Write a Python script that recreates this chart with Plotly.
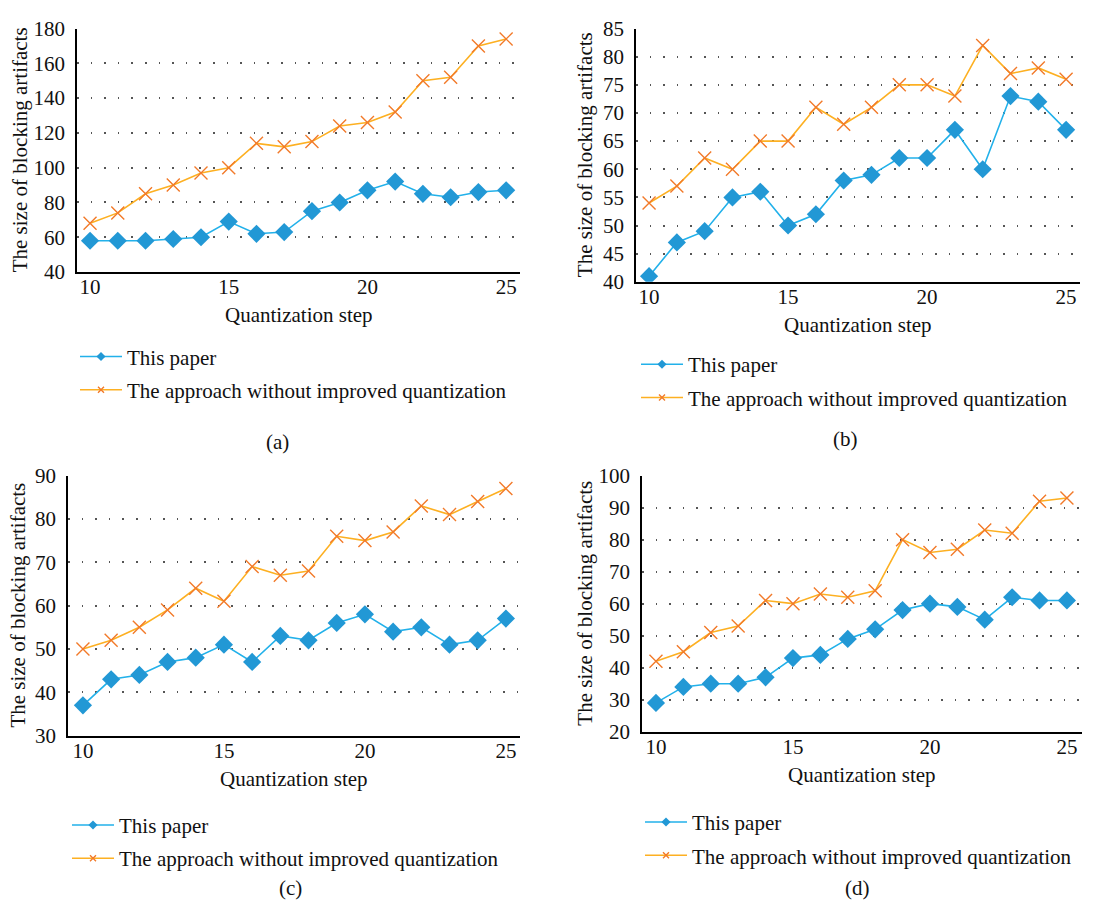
import plotly.graph_objects as go

W, H = 1119, 921

steps = list(range(10, 26))

a_this = [58, 58, 58, 59, 60, 69, 62, 63, 75, 80, 87, 92, 85, 83, 86, 87]
a_base = [68, 74, 85, 90, 97, 100, 114, 112, 115, 124, 126, 132, 150, 152, 170, 174]

b_this = [41, 47, 49, 55, 56, 50, 52, 58, 59, 62, 62, 67, 60, 73, 72, 67]
b_base = [54, 57, 62, 60, 65, 65, 71, 68, 71, 75, 75, 73, 82, 77, 78, 76]

c_this = [37, 43, 44, 47, 48, 51, 47, 53, 52, 56, 58, 54, 55, 51, 52, 57]
c_base = [50, 52, 55, 59, 64, 61, 69, 67, 68, 76, 75, 77, 83, 81, 84, 87]

d_this = [29, 34, 35, 35, 37, 43, 44, 49, 52, 58, 60, 59, 55, 62, 61, 61]
d_base = [42, 45, 51, 53, 61, 60, 63, 62, 64, 80, 76, 77, 83, 82, 92, 93]

name_this = "This paper"
name_base = "The approach without improved quantization"
x_title = "Quantization step"
y_title = "The size of blocking artifacts"
captions = ["(a)", "(b)", "(c)", "(d)"]

FONT = "Liberation Serif, Times New Roman, serif"
FS = 21
BLUE_LINE = "#22B1EA"
BLUE_MARK = "#2298D5"
ORANGE_LINE = "#FDB022"
ORANGE_MARK = "#F27A2A"


def fx(px):
    return px / W


def fy(py):
    return 1 - py / H


# panel layout: plot box in pixels, axis ranges, y tick step, label positions
panels = [
    dict(this=a_this, base=a_base, box=(77, 520, 17, 267), xr=[9.53, 25.5], yr=[40, 180], dy=20,
         ytx=20, xty=311, leg=(75, 333), cap=(277, 442)),
    dict(this=b_this, base=b_base, box=(636, 1080, 17, 277), xr=[9.53, 25.5], yr=[40, 85], dy=5,
         ytx=585, xty=321, leg=(636, 341), cap=(845, 438)),
    dict(this=c_this, base=c_base, box=(68, 520, 476, 743), xr=[9.47, 25.5], yr=[30, 90], dy=10,
         ytx=18, xty=788, leg=(67, 814), cap=(290, 899)),
    dict(this=d_this, base=d_base, box=(642, 1082, 476, 739), xr=[9.49, 25.55], yr=[20, 100], dy=10,
         ytx=585, xty=783, leg=(640, 811), cap=(857, 899)),
]

fig = go.Figure()
annotations = []
layout_axes = {}

for i, p in enumerate(panels):
    n = "" if i == 0 else str(i + 1)
    xa, ya = "x" + n, "y" + n
    leg = "legend" + n
    x0, x1, y0, y1 = p["box"]

    fig.add_trace(go.Scatter(
        x=steps, y=p["this"], xaxis=xa, yaxis=ya, mode="lines+markers", showlegend=False,
        line=dict(color=BLUE_LINE, width=1.6),
        marker=dict(symbol="diamond", size=14, color=BLUE_MARK)))
    fig.add_trace(go.Scatter(
        x=steps, y=p["base"], xaxis=xa, yaxis=ya, mode="lines+markers", showlegend=False,
        line=dict(color=ORANGE_LINE, width=1.6),
        marker=dict(symbol="x-thin", size=13, color=ORANGE_MARK,
                    line=dict(color=ORANGE_MARK, width=1.4))))
    # legend entries with small symbols
    fig.add_trace(go.Scatter(
        x=[None], y=[None], xaxis=xa, yaxis=ya, mode="lines+markers", name=name_this,
        legend=leg, legendgroup="this" + n,
        line=dict(color=BLUE_LINE, width=1.6),
        marker=dict(symbol="diamond", size=7, color=BLUE_MARK)))
    fig.add_trace(go.Scatter(
        x=[None], y=[None], xaxis=xa, yaxis=ya, mode="lines+markers", name=name_base,
        legend=leg, legendgroup="base" + n,
        line=dict(color=ORANGE_LINE, width=1.6),
        marker=dict(symbol="x-thin", size=6, color=ORANGE_MARK,
                    line=dict(color=ORANGE_MARK, width=1.4))))

    key = "" if i == 0 else str(i + 1)
    layout_axes["xaxis" + key] = dict(
        domain=[fx(x0), fx(x1)], anchor=ya, range=p["xr"], tick0=10, dtick=5,
        showgrid=False, zeroline=False, showline=True, linecolor="black", linewidth=1.8,
        ticks="", ticklabelstandoff=-5,
        tickfont=dict(family=FONT, size=FS, color="#111"))
    layout_axes["yaxis" + key] = dict(
        domain=[fy(y1), fy(y0)], anchor=xa, range=p["yr"], tick0=p["yr"][0], dtick=p["dy"],
        showgrid=True, gridcolor="#555", gridwidth=1.6, griddash="1.6px,12px",
        zeroline=False, showline=True, linecolor="black", linewidth=1.8,
        ticks="", ticklabelstandoff=6,
        tickfont=dict(family=FONT, size=FS, color="#111"))
    layout_axes[leg] = dict(
        x=fx(p["leg"][0]), y=fy(p["leg"][1]), xanchor="left", yanchor="top",
        bgcolor="rgba(0,0,0,0)", borderwidth=0, tracegroupgap=3, itemwidth=42,
        font=dict(family=FONT, size=FS, color="#111"))

    annotations.append(dict(
        text=y_title, x=fx(p["ytx"]), y=fy((y0 + y1) / 2), xref="paper", yref="paper",
        textangle=-90, showarrow=False, xanchor="center", yanchor="middle",
        font=dict(family=FONT, size=FS, color="#111")))
    annotations.append(dict(
        text=x_title, x=fx((x0 + x1) / 2), y=fy(p["xty"]), xref="paper", yref="paper",
        showarrow=False, xanchor="center", yanchor="middle",
        font=dict(family=FONT, size=FS, color="#111")))
    annotations.append(dict(
        text=captions[i], x=fx(p["cap"][0]), y=fy(p["cap"][1]), xref="paper", yref="paper",
        showarrow=False, xanchor="center", yanchor="middle",
        font=dict(family=FONT, size=FS, color="#111")))

fig.update_layout(
    width=W, height=H, margin=dict(l=0, r=0, t=0, b=0),
    paper_bgcolor="white", plot_bgcolor="white",
    annotations=annotations, **layout_axes)

fig.write_html("out.html")
